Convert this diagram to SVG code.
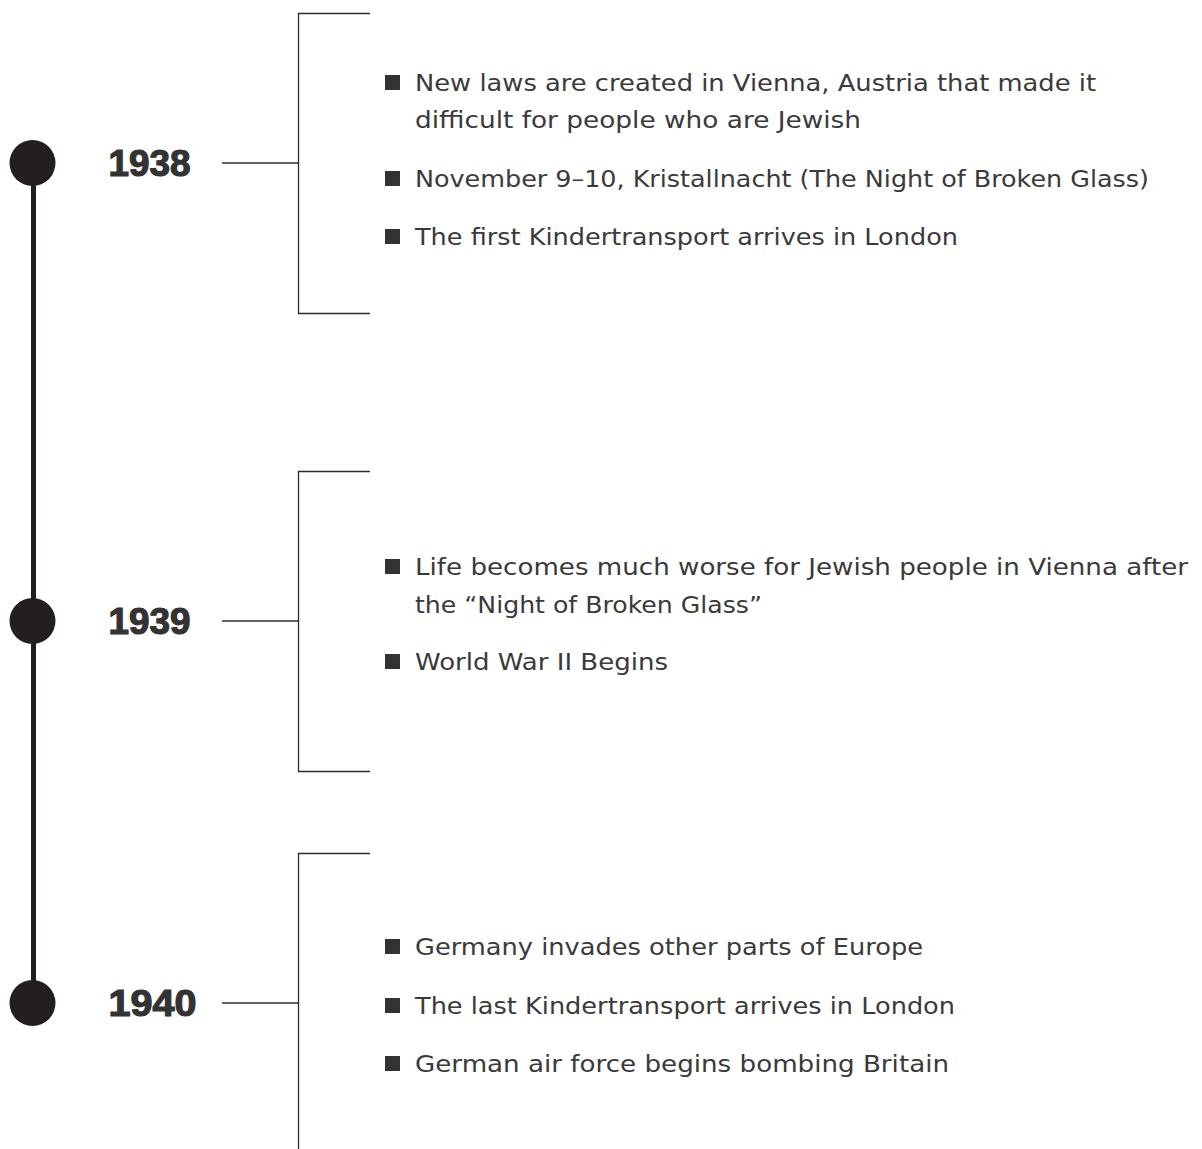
<svg xmlns="http://www.w3.org/2000/svg" width="1202" height="1149" viewBox="0 0 1202 1149">
<style>
.dot{fill:#231f20}
.spine{stroke:#231f20;stroke-width:5;fill:none}
.thin{stroke:#2b2b2b;stroke-width:1.3;fill:none}
.year{font-family:"Liberation Sans","DejaVu Sans",sans-serif;font-weight:bold;font-size:37px;fill:#333333;stroke:#333333;stroke-width:1.2}
.item{font-family:"DejaVu Sans","Liberation Sans",sans-serif;font-size:23px;fill:#3a3a3a}
.bul{fill:#333333}
</style>
<rect width="1202" height="1149" fill="#ffffff"/>
<g id="connectors">
<line class="spine" x1="33.5" y1="163" x2="33.5" y2="1003"/>
<line class="thin" x1="222" y1="163" x2="298" y2="163"/>
<polyline class="thin" points="370,13.5 298.5,13.5 298.5,313.5 370,313.5"/>
<line class="thin" x1="222" y1="621" x2="298" y2="621"/>
<polyline class="thin" points="370,471.5 298.5,471.5 298.5,771.5 370,771.5"/>
<line class="thin" x1="222" y1="1003" x2="298" y2="1003"/>
<polyline class="thin" points="370,853.5 298.5,853.5 298.5,1149"/>
</g>
<g id="node-1938">
<circle class="dot" cx="32.5" cy="163" r="23"/>
<text class="year" x="108.5" y="176" textLength="82" lengthAdjust="spacingAndGlyphs">1938</text>
<rect class="bul" x="385" y="75" width="15" height="15"/>
<text class="item" x="415" y="91" textLength="681" lengthAdjust="spacingAndGlyphs">New laws are created in Vienna, Austria that made it</text>
<text class="item" x="415" y="128" textLength="446" lengthAdjust="spacingAndGlyphs">difficult for people who are Jewish</text>
<rect class="bul" x="385" y="171" width="15" height="15"/>
<text class="item" x="415" y="187" textLength="734" lengthAdjust="spacingAndGlyphs">November 9–10, Kristallnacht (The Night of Broken Glass)</text>
<rect class="bul" x="385" y="229" width="15" height="15"/>
<text class="item" x="415" y="245" textLength="543" lengthAdjust="spacingAndGlyphs">The first Kindertransport arrives in London</text>
</g>
<g id="node-1939">
<circle class="dot" cx="32.5" cy="621" r="23"/>
<text class="year" x="108.5" y="634" textLength="82" lengthAdjust="spacingAndGlyphs">1939</text>
<rect class="bul" x="385" y="559" width="15" height="15"/>
<text class="item" x="415" y="575" textLength="773" lengthAdjust="spacingAndGlyphs">Life becomes much worse for Jewish people in Vienna after</text>
<text class="item" x="415" y="613" textLength="347" lengthAdjust="spacingAndGlyphs">the “Night of Broken Glass”</text>
<rect class="bul" x="385" y="654" width="15" height="15"/>
<text class="item" x="415" y="670" textLength="253" lengthAdjust="spacingAndGlyphs">World War II Begins</text>
</g>
<g id="node-1940">
<circle class="dot" cx="32.5" cy="1003" r="23"/>
<text class="year" x="108.5" y="1016" textLength="88" lengthAdjust="spacingAndGlyphs">1940</text>
<rect class="bul" x="385" y="939" width="15" height="15"/>
<text class="item" x="415" y="955" textLength="508" lengthAdjust="spacingAndGlyphs">Germany invades other parts of Europe</text>
<rect class="bul" x="385" y="998" width="15" height="15"/>
<text class="item" x="415" y="1014" textLength="540" lengthAdjust="spacingAndGlyphs">The last Kindertransport arrives in London</text>
<rect class="bul" x="385" y="1056" width="15" height="15"/>
<text class="item" x="415" y="1072" textLength="534" lengthAdjust="spacingAndGlyphs">German air force begins bombing Britain</text>
</g>
</svg>
